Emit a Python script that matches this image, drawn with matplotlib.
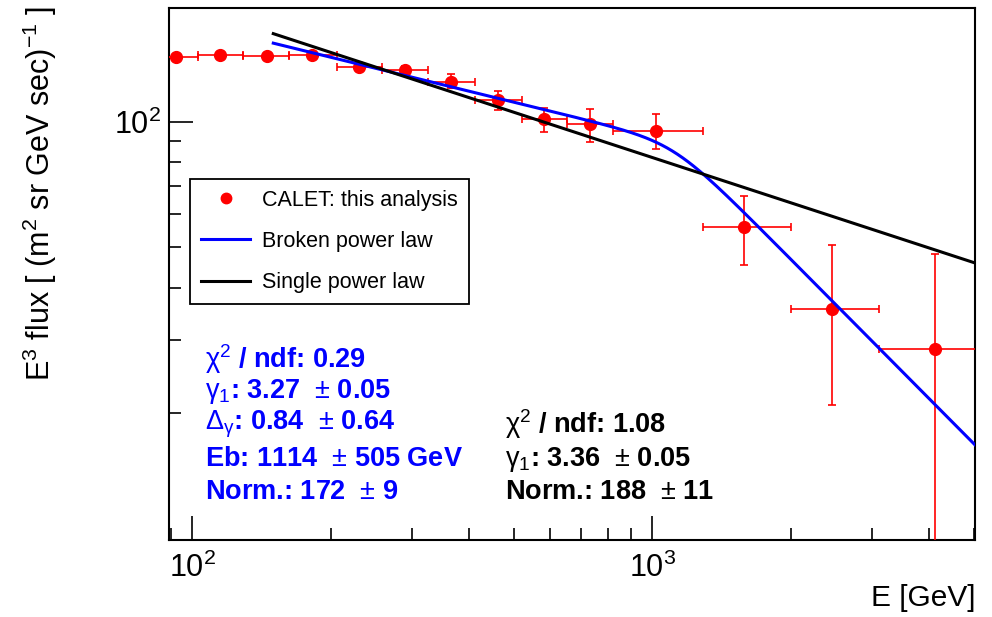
import numpy as np
import matplotlib
matplotlib.use('Agg')
import matplotlib.pyplot as plt
from matplotlib.lines import Line2D
from matplotlib.ticker import FixedLocator, LogLocator, NullFormatter

# CALET spectrum points: log bin centre, bin edges, E^3 flux and its errors
energy   = [92.3, 115, 145, 182, 230, 290, 366, 462, 582, 733, 1020, 1586, 2466, 4130]
bin_lo   = [82.7, 103, 129, 162.5, 206, 259, 326, 412, 522, 653, 822, 1290, 2006, 3113]
bin_hi   = [103, 129, 162.5, 206, 259, 326, 412, 522, 653, 822, 1290, 2006, 3113, 5480]
flux     = [143.1, 144.4, 143.9, 144.4, 134.9, 132.8, 124.6, 112.7, 101.4, 98.5, 95.1, 55.9, 35.6, 28.6]
flux_dn  = [1.5, 1.5, 1.5, 2.0, 2.5, 3.0, 4.5, 6.0, 7.0, 9.0, 9.0, 10.6, 14.7, 19.5]
flux_up  = [1.5, 1.5, 1.5, 2.0, 2.5, 3.0, 5.4, 6.0, 6.6, 9.0, 9.2, 10.5, 15.0, 19.5]

# fit results
bpl_norm, bpl_g1, bpl_dg, bpl_eb = 172., 3.27, 0.84, 1114.
spl_norm, spl_g = 188., 3.36
e_ref    = 100.    # normalisation energy
smooth   = 10.     # break sharpness
fit_rng  = [150., 5100.]

bpl_lines = ["$\\mathrm{\\chi}^2$ / ndf: 0.29",
             "$\\mathrm{\\gamma}_1$: 3.27  $\\pm$ 0.05",
             "$\\mathrm{\\Delta}_\\mathrm{\\gamma}$: 0.84  $\\pm$ 0.64",
             "Eb: 1114  $\\pm$ 505 GeV",
             "Norm.: 172  $\\pm$ 9"]
spl_lines = ["$\\mathrm{\\chi}^2$ / ndf: 1.08",
             "$\\mathrm{\\gamma}_1$: 3.36  $\\pm$ 0.05",
             "Norm.: 188  $\\pm$ 11"]

plt.rcParams['font.family'] = 'Liberation Sans'
plt.rcParams['mathtext.fontset'] = 'custom'
plt.rcParams['mathtext.rm'] = 'Liberation Sans'
plt.rcParams['mathtext.it'] = 'Liberation Sans:italic'
plt.rcParams['mathtext.bf'] = 'Liberation Sans:bold'

def broken_pl(e):
    base = bpl_norm*(e/e_ref)**(3-bpl_g1)
    return base*(1+(e/bpl_eb)**smooth)**(-bpl_dg/smooth)

def single_pl(e):
    return spl_norm*(e/e_ref)**(3-spl_g)

fig = plt.figure(figsize=(9.92, 6.17), dpi=100)
ax  = fig.add_axes([0.1704, 0.1248, 0.8125, 0.862])

energy = np.array(energy)
flux   = np.array(flux)
xerr   = [energy-np.array(bin_lo), np.array(bin_hi)-energy]
yerr   = [flux_dn, flux_up]
ax.errorbar(energy, flux, xerr=xerr, yerr=yerr, fmt='o', color='red', ms=8.5,
            elinewidth=1.2, capsize=3, capthick=1.2, zorder=3)

efit = np.logspace(np.log10(fit_rng[0]), np.log10(fit_rng[1]), 400)
ax.plot(efit, broken_pl(efit), color='blue', lw=2.2, zorder=4)
ax.plot(efit, single_pl(efit), color='black', lw=2.2, zorder=4)

ax.set_xscale('log')
ax.set_yscale('log')
ax.set_xlim(89, 5036)
ax.set_ylim(9.95, 187)
ax.yaxis.set_major_locator(FixedLocator([100]))
ax.yaxis.set_minor_locator(LogLocator(base=10, subs=np.arange(2, 10)))
ax.yaxis.set_minor_formatter(NullFormatter())
ax.xaxis.set_minor_formatter(NullFormatter())
ax.tick_params(which='both', direction='in', top=False, right=False, labelsize=22)
ax.tick_params(which='major', length=17, width=1.2)
ax.tick_params(which='minor', length=8.5, width=1.2)
ax.tick_params(axis='x', pad=9)
ax.tick_params(axis='y', pad=6)
for sp in ax.spines.values():
    sp.set_linewidth(1.5)

fig.text(0.983, 0.008, "E [GeV]", ha='right', va='bottom', fontsize=21.5)
fig.text(0.04, 0.99, "E$^3$ flux [ (m$^2$ sr GeV sec)$^{-1}$ ]", rotation=90,
         ha='center', va='top', fontsize=22)

handles = [Line2D([], [], marker='o', ls='none', color='red', ms=7.5),
           Line2D([], [], color='blue', lw=2.2),
           Line2D([], [], color='black', lw=2.2)]
labels  = ["CALET: this analysis", "Broken power law", "Single power law"]
leg = ax.legend(handles, labels, loc='upper left', bbox_to_anchor=(0.026, 0.679),
                fontsize=15.5, frameon=True, fancybox=False, edgecolor='black',
                framealpha=1, borderpad=0.5, labelspacing=0.94, handlelength=2.3,
                handletextpad=0.55, borderaxespad=0)
leg.get_frame().set_linewidth(1.3)

# fit statistics boxes
row_y = [0.340, 0.280, 0.218, 0.152, 0.090]
for i, s in enumerate(bpl_lines):
    ax.text(0.0447, row_y[i], s, transform=ax.transAxes, color='blue',
            fontsize=19.5, fontweight='bold', va='center', ha='left')
for i, s in enumerate(spl_lines):
    ax.text(0.417, row_y[i+2], s, transform=ax.transAxes, color='black',
            fontsize=19.5, fontweight='bold', va='center', ha='left')

fig.savefig('out.png', dpi=100, facecolor='white')
